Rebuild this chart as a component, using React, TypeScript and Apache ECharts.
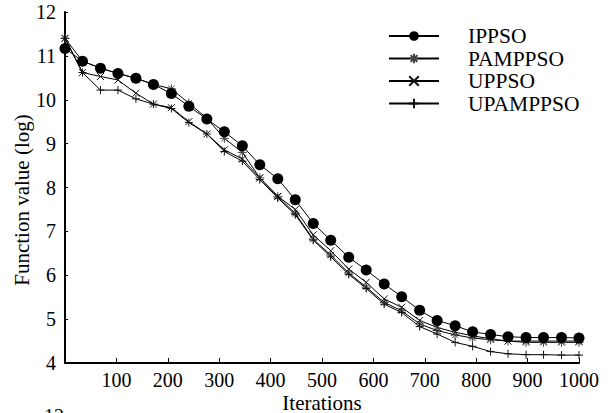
import React, { useEffect, useRef } from "react";
import * as echarts from "echarts";

const iterations = [0, 34, 69, 103, 138, 172, 207, 241, 276, 310, 345, 379, 414, 448, 483, 517, 552, 586, 621, 655, 690, 724, 759, 793, 828, 862, 897, 931, 966, 1000];

const ippso = [11.17, 10.88, 10.72, 10.6, 10.49, 10.35, 10.14, 9.85, 9.56, 9.27, 8.95, 8.52, 8.2, 7.72, 7.18, 6.8, 6.41, 6.12, 5.8, 5.51, 5.2, 4.97, 4.85, 4.71, 4.65, 4.6, 4.58, 4.58, 4.58, 4.57];
const pamppso = [11.4, 10.88, 10.72, 10.6, 10.49, 10.35, 10.25, 9.92, 9.58, 9.12, 8.8, 8.22, 7.79, 7.41, 6.82, 6.46, 6.05, 5.73, 5.38, 5.19, 4.89, 4.74, 4.64, 4.57, 4.53, 4.5, 4.47, 4.47, 4.47, 4.47];
const uppso = [11.4, 10.62, 10.53, 10.45, 10.15, 9.9, 9.82, 9.5, 9.22, 8.86, 8.65, 8.22, 7.8, 7.5, 6.92, 6.56, 6.14, 5.84, 5.46, 5.27, 4.97, 4.81, 4.7, 4.62, 4.55, 4.5, 4.5, 4.5, 4.5, 4.5];
const upamppso = [11.4, 10.62, 10.22, 10.22, 10.02, 9.9, 9.8, 9.48, 9.22, 8.82, 8.6, 8.18, 7.76, 7.38, 6.8, 6.42, 6.02, 5.7, 5.34, 5.15, 4.83, 4.66, 4.47, 4.38, 4.26, 4.21, 4.19, 4.19, 4.18, 4.18];

const seriesNames = ["IPPSO", "PAMPPSO", "UPPSO", "UPAMPPSO"];
const xTicks = [100, 200, 300, 400, 500, 600, 700, 800, 900, 1000];

const FONT = "Liberation Serif";

const STAR = "path://M0,5L10,5M5,0L5,10M1.5,1.5L8.5,8.5M8.5,1.5L1.5,8.5";
const CROSS = "path://M0,0L10,10M10,0L0,10";
const PLUS = "path://M0,5L10,5M5,0L5,10";

function pairs(ys: number[]) {
  return ys.map((y, i) => [iterations[i], y]);
}

export default function App() {
  const ref = useRef<HTMLDivElement>(null);
  useEffect(() => {
    if (!ref.current) return;
    const chart = echarts.init(ref.current, undefined, { renderer: "svg" });
    const lineStyle = { color: "#000", width: 1 };
    const markerStyle = { color: "#000", borderColor: "#111", borderWidth: 1 };
    chart.setOption({
      animation: false,
      backgroundColor: "#fff",
      grid: { left: 65, top: 12, right: 36, bottom: 50, containLabel: false, outerBoundsMode: "none" },
      legend: {
        orient: "vertical",
        left: 388,
        top: 25,
        padding: 0,
        itemWidth: 50,
        itemHeight: 12,
        itemGap: 0.5,
        data: seriesNames,
        textStyle: {
          fontFamily: FONT,
          fontSize: 21.5,
          lineHeight: 20,
          color: "#000",
          padding: [0, 0, 0, 24],
        },
      },
      xAxis: {
        type: "value",
        min: 0,
        max: 1000,
        interval: 100,
        name: "Iterations",
        nameLocation: "middle",
        nameGap: 30,
        nameMoveOverlap: false,
        nameTextStyle: { fontFamily: FONT, fontSize: 21, color: "#000", lineHeight: 20 },
        axisLine: { show: true, lineStyle: { color: "#000", width: 2 } },
        axisTick: { show: true, inside: true, length: 5, lineStyle: { color: "#000", width: 1 } },
        axisLabel: {
          fontFamily: FONT,
          fontSize: 20,
          lineHeight: 16,
          color: "#000",
          margin: 9,
          formatter: (v: number) => (xTicks.indexOf(v) >= 0 ? String(v) : ""),
        },
        splitLine: { show: false },
      },
      yAxis: {
        type: "value",
        min: 4,
        max: 12,
        interval: 1,
        axisLine: { show: true, lineStyle: { color: "#000", width: 2 } },
        axisTick: { show: true, inside: true, length: 3, lineStyle: { color: "#000", width: 1 } },
        axisLabel: { fontFamily: FONT, fontSize: 20, color: "#000", margin: 9 },
        splitLine: { show: false },
      },
      graphic: [
        {
          type: "text",
          x: 22,
          y: 200,
          rotation: Math.PI / 2,
          style: {
            text: "Function value (log)",
            fontFamily: FONT,
            fontSize: 21,
            fill: "#000",
            align: "center",
            verticalAlign: "middle",
          },
        },
        {
          type: "text",
          x: 44,
          y: 406,
          style: { text: "12", fontFamily: FONT, fontSize: 20, fill: "#000" },
        },
      ],
      series: [
        {
          name: seriesNames[0],
          type: "line",
          data: pairs(ippso),
          symbol: "circle",
          symbolSize: 11,
          lineStyle,
          itemStyle: { color: "#000" },
          z: 4,
        },
        {
          name: seriesNames[1],
          type: "line",
          data: pairs(pamppso),
          symbol: STAR,
          symbolSize: 9,
          lineStyle,
          itemStyle: { ...markerStyle, borderColor: "#444" },
          z: 3,
        },
        {
          name: seriesNames[2],
          type: "line",
          data: pairs(uppso),
          symbol: CROSS,
          symbolSize: 7,
          lineStyle,
          itemStyle: markerStyle,
          z: 3,
        },
        {
          name: seriesNames[3],
          type: "line",
          data: pairs(upamppso),
          symbol: PLUS,
          symbolSize: 8,
          lineStyle,
          itemStyle: markerStyle,
          z: 3,
        },
      ],
    });
    return () => chart.dispose();
  }, []);
  return (
    <div
      ref={ref}
      style={{ position: "absolute", left: 0, top: 0, width: 615, height: 413 }}
    />
  );
}
